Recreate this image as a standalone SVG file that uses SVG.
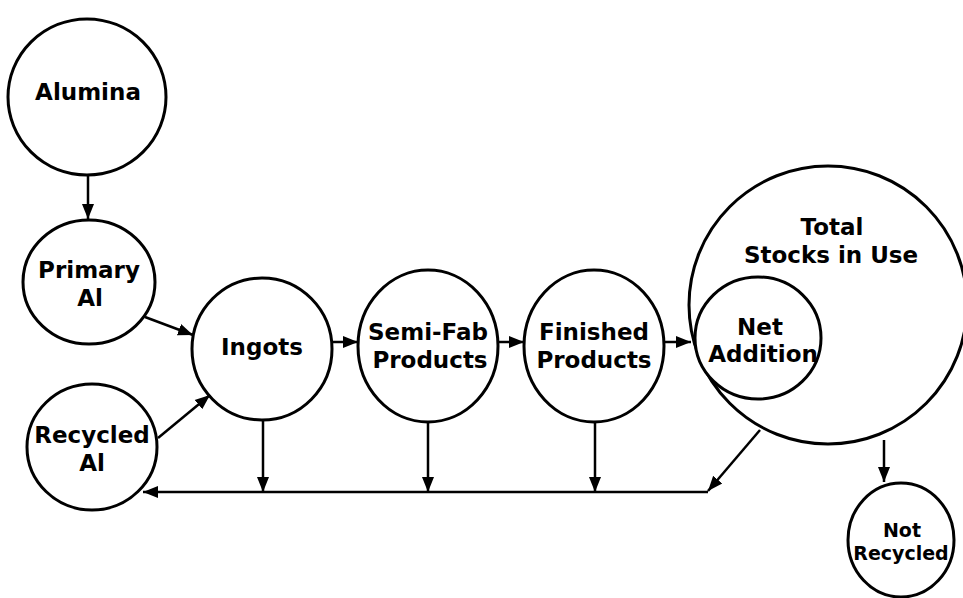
<svg xmlns="http://www.w3.org/2000/svg" width="963" height="598" viewBox="0 0 963 598">
<style>
.n{fill:#fff;stroke:#000;stroke-width:3}
.t{font-family:"DejaVu Sans",Verdana,sans-serif;font-weight:bold;font-size:23px;fill:#000;text-anchor:middle}
.s{font-size:19px}
.c{fill:none;stroke:#000;stroke-width:2.5}
</style>
<defs>
<marker id="a" markerUnits="userSpaceOnUse" markerWidth="16" markerHeight="14" refX="15" refY="7" orient="auto">
<path d="M0,1 L15,7 L0,13 Z" fill="#000"/>
</marker>
</defs>
<rect width="963" height="598" fill="#fff"/>
<g id="total">
<circle class="n" cx="828" cy="305" r="139"/>
<text class="t" x="832" y="235">Total</text>
<text class="t" x="831" y="263">Stocks in Use</text>
</g>
<g id="alumina">
<ellipse class="n" cx="87" cy="97" rx="79" ry="78"/>
<text class="t" x="88" y="100">Alumina</text>
</g>
<g id="primary">
<ellipse class="n" cx="89" cy="282" rx="66" ry="62"/>
<text class="t" x="89" y="278">Primary</text>
<text class="t" x="90" y="306">Al</text>
</g>
<g id="recycled">
<ellipse class="n" cx="92" cy="447" rx="65" ry="63"/>
<text class="t" x="92" y="443">Recycled</text>
<text class="t" x="92" y="471">Al</text>
</g>
<g id="ingots">
<ellipse class="n" cx="262" cy="349" rx="70" ry="71"/>
<text class="t" x="262" y="355">Ingots</text>
</g>
<g id="semifab">
<ellipse class="n" cx="428" cy="346" rx="70" ry="76"/>
<text class="t" x="428" y="340">Semi-Fab</text>
<text class="t" x="430" y="368">Products</text>
</g>
<g id="finished">
<ellipse class="n" cx="594" cy="346" rx="70" ry="76"/>
<text class="t" x="594" y="340">Finished</text>
<text class="t" x="594" y="368">Products</text>
</g>
<g id="net">
<ellipse class="n" cx="758" cy="338" rx="63" ry="61"/>
<text class="t" x="760" y="335">Net</text>
<text class="t" x="763" y="362">Addition</text>
</g>
<g id="notrecycled">
<ellipse class="n" cx="901" cy="540" rx="53" ry="57"/>
<text class="t s" x="902" y="537">Not</text>
<text class="t s" x="901" y="560">Recycled</text>
</g>
<g id="connectors">
<line class="c" x1="88" y1="175" x2="88" y2="219" marker-end="url(#a)"/>
<line class="c" x1="145" y1="317" x2="193" y2="335" marker-end="url(#a)"/>
<line class="c" x1="158" y1="438" x2="210" y2="395" marker-end="url(#a)"/>
<line class="c" x1="333" y1="342" x2="358" y2="342" marker-end="url(#a)"/>
<line class="c" x1="499" y1="342" x2="524" y2="342" marker-end="url(#a)"/>
<line class="c" x1="664" y1="342" x2="691" y2="342" marker-end="url(#a)"/>
<line class="c" x1="263" y1="420" x2="263" y2="492" marker-end="url(#a)"/>
<line class="c" x1="428" y1="422" x2="428" y2="492" marker-end="url(#a)"/>
<line class="c" x1="595" y1="422" x2="595" y2="492" marker-end="url(#a)"/>
<line class="c" x1="760" y1="430" x2="708" y2="491" marker-end="url(#a)"/>
<line class="c" x1="884" y1="440" x2="884" y2="482" marker-end="url(#a)"/>
<line class="c" x1="708" y1="492" x2="143" y2="492" marker-end="url(#a)"/>
</g>
</svg>
